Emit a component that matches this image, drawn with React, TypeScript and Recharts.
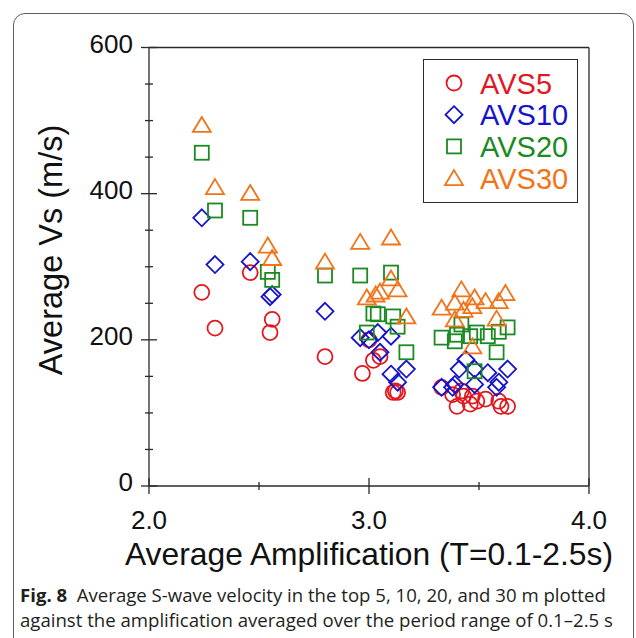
import { Legend, Scatter, ScatterChart, XAxis, YAxis } from 'recharts';

// Average amplification (x) vs average Vs (y) for each depth
const avs5: [number, number][] = [
  [2.24, 265], [2.3, 216], [2.46, 292], [2.56, 228], [2.55, 210],
  [2.8, 177], [2.97, 154], [3.0, 200], [3.02, 172], [3.05, 177], [3.11, 128], [3.12, 130], [3.13, 128],
  [3.33, 135], [3.38, 125], [3.4, 109], [3.42, 130], [3.43, 123], [3.46, 112], [3.47, 123],
  [3.49, 116], [3.53, 119], [3.59, 116], [3.6, 109], [3.63, 109],
];
const avs10: [number, number][] = [
  [2.24, 367], [2.3, 303], [2.46, 307], [2.55, 259], [2.56, 262],
  [2.8, 239], [2.96, 203], [3.0, 200], [3.04, 210], [3.1, 205], [3.05, 183], [3.1, 153], [3.17, 160], [3.13, 142],
  [3.33, 135], [3.38, 135], [3.39, 139], [3.41, 160], [3.44, 173], [3.48, 160], [3.48, 139],
  [3.54, 155], [3.58, 135], [3.59, 142], [3.63, 160],
];
const avs20: [number, number][] = [
  [2.24, 456], [2.3, 377], [2.46, 367], [2.54, 293], [2.56, 282],
  [2.8, 288], [2.96, 288], [3.1, 292], [3.02, 236], [3.04, 235], [3.11, 232], [3.13, 218], [2.99, 210], [3.17, 183],
  [3.33, 203], [3.39, 198], [3.4, 207], [3.42, 221], [3.46, 205], [3.49, 210], [3.54, 205],
  [3.59, 211], [3.58, 183], [3.63, 217], [3.48, 157],
];
const avs30: [number, number][] = [
  [2.24, 494], [2.3, 409], [2.46, 401], [2.54, 329], [2.56, 312],
  [2.8, 307], [2.96, 334], [3.1, 340], [3.1, 284], [3.05, 266], [3.13, 269], [3.03, 262], [2.99, 258], [3.17, 232],
  [3.33, 244], [3.39, 251], [3.42, 269], [3.43, 241], [3.47, 246], [3.48, 258], [3.53, 253],
  [3.59, 253], [3.62, 264], [3.39, 228], [3.58, 229], [3.47, 191],
];

const xTicks = [2, 2.5, 3, 3.5, 4];
const xLabelTicks = [2, 3, 4];
const yTicks = [0, 50, 100, 150, 200, 250, 300, 350, 400, 450, 500, 550, 600];
const yLabelTicks = [0, 200, 400, 600];

const seriesNames = ['AVS5', 'AVS10', 'AVS20', 'AVS30'];
const seriesColors = ['#e3171f', '#1414cc', '#1b8a22', '#f27318'];
const seriesKinds = ['circle', 'diamond', 'square', 'triangle'];

const toRows = (pts: [number, number][]) => pts.map(([amp, vs]) => ({ amp, vs }));

const AXIS = '#2a2a2a';
const FONT = '"Liberation Sans", Arial, sans-serif';

function Marker({ kind, cx, cy, color }: { kind: string; cx: number; cy: number; color: string }) {
  const common = { fill: 'none', stroke: color, strokeWidth: 1.8 };
  if (kind === 'circle') return <circle cx={cx} cy={cy} r={7.5} {...common} />;
  if (kind === 'diamond')
    return <polygon points={`${cx},${cy - 8.5} ${cx + 8.5},${cy} ${cx},${cy + 8.5} ${cx - 8.5},${cy}`} {...common} />;
  if (kind === 'square') return <rect x={cx - 7} y={cy - 7} width={14} height={14} {...common} />;
  return <polygon points={`${cx},${cy - 8} ${cx + 9},${cy + 7} ${cx - 9},${cy + 7}`} {...common} />;
}

const shapeFor = (i: number) => (props: any) => (
  <Marker kind={seriesKinds[i]} cx={props.cx} cy={props.cy} color={seriesColors[i]} />
);

function LeftTick({ x, y, payload }: any) {
  const major = yLabelTicks.includes(payload.value);
  const len = major ? 8 : 4;
  return (
    <g>
      <line x1={x - len} x2={x + len} y1={y} y2={y} stroke={AXIS} strokeWidth={1.3} />
      {major && (
        <text x={x - 16} y={y + 5} textAnchor="end" fontSize={26} fontFamily={FONT} fill="#111">
          {payload.value}
        </text>
      )}
    </g>
  );
}

function RightTick({ x, y, payload }: any) {
  const len = yLabelTicks.includes(payload.value) ? 8 : 4;
  return <line x1={x - len} x2={x + len} y1={y} y2={y} stroke={AXIS} strokeWidth={1.3} />;
}

function BottomTick({ x, y, payload }: any) {
  const major = xLabelTicks.includes(payload.value);
  const len = major ? 8 : 4;
  return (
    <g>
      <line x1={x} x2={x} y1={y - len} y2={y + len} stroke={AXIS} strokeWidth={1.3} />
      {major && (
        <text x={x} y={y + 43} textAnchor="middle" fontSize={26} fontFamily={FONT} fill="#111">
          {payload.value.toFixed(1)}
        </text>
      )}
    </g>
  );
}

function TopTick({ x, y, payload }: any) {
  const len = xLabelTicks.includes(payload.value) ? 8 : 4;
  return <line x1={x} x2={x} y1={y - len} y2={y + len} stroke={AXIS} strokeWidth={1.3} />;
}

function LegendBox() {
  return (
    <div style={{ width: 155, height: 144, border: `1.5px solid ${AXIS}`, boxSizing: 'border-box', background: '#fff' }}>
      <svg width={152} height={141}>
        {seriesNames.map((name, i) => {
          const cy = 23 + i * 31.7;
          return (
            <g key={name}>
              <Marker kind={seriesKinds[i]} cx={30} cy={cy} color={seriesColors[i]} />
              <text x={56} y={cy + 10.5} fontSize={29} fontFamily={FONT} fill={seriesColors[i]}>
                {name}
              </text>
            </g>
          );
        })}
      </svg>
    </div>
  );
}

export default function App() {
  const series = [avs5, avs10, avs20, avs30];
  return (
    <div style={{ position: 'absolute', left: 0, top: 0, width: 636, height: 638, background: '#fff', overflow: 'hidden' }}>
      <div
        style={{
          position: 'absolute',
          left: 13,
          top: 13,
          width: 621,
          height: 700,
          border: '1.5px solid #5c5c5c',
          borderRadius: 12,
          boxSizing: 'border-box',
        }}
      />
      <div style={{ position: 'absolute', left: 0, top: 0 }}>
        <ScatterChart width={636} height={638} margin={{ top: 46.5, right: 46, bottom: 151, left: 148 }}>
          <XAxis
            xAxisId="b"
            dataKey="amp"
            type="number"
            domain={[2, 4]}
            ticks={xTicks}
            height={1}
            tickSize={0}
            tickMargin={0}
            tickLine={false}
            tick={<BottomTick />}
            axisLine={{ stroke: AXIS, strokeWidth: 1.3 }}
            label={{
              value: 'Average Amplification (T=0.1-2.5s)',
              position: 'bottom',
              offset: 55,
              fontSize: 31.8,
              fontFamily: FONT,
              fill: '#111',
            }}
          />
          <XAxis
            xAxisId="t"
            orientation="top"
            type="number"
            domain={[2, 4]}
            ticks={xTicks}
            height={1}
            tickSize={0}
            tickMargin={0}
            tickLine={false}
            tick={<TopTick />}
            axisLine={{ stroke: AXIS, strokeWidth: 1.3 }}
          />
          <YAxis
            yAxisId="l"
            dataKey="vs"
            type="number"
            domain={[0, 600]}
            ticks={yTicks}
            width={1}
            tickSize={0}
            tickMargin={0}
            tickLine={false}
            tick={<LeftTick />}
            axisLine={{ stroke: AXIS, strokeWidth: 1.3 }}
            label={{
              content: () => (
                <text
                  x={62}
                  y={250}
                  transform="rotate(-90, 62, 250)"
                  textAnchor="middle"
                  fontSize={32.5}
                  fontFamily={FONT}
                  fill="#111"
                >
                  Average Vs (m/s)
                </text>
              ),
            }}
          />
          <YAxis
            yAxisId="r"
            orientation="right"
            type="number"
            domain={[0, 600]}
            ticks={yTicks}
            width={1}
            tickSize={0}
            tickMargin={0}
            tickLine={false}
            tick={<RightTick />}
            axisLine={{ stroke: AXIS, strokeWidth: 1.3 }}
          />
          {series.map((pts, i) => (
            <Scatter
              key={seriesNames[i]}
              name={seriesNames[i]}
              data={toRows(pts)}
              xAxisId="b"
              yAxisId="l"
              shape={shapeFor(i)}
              isAnimationActive={false}
            />
          ))}
          <Legend
            layout="vertical"
            align="center"
            verticalAlign="middle"
            content={() => <LegendBox />}
            wrapperStyle={{ position: 'absolute', left: 423, top: 59, width: 155, height: 144, bottom: 'auto', right: 'auto' }}
          />
        </ScatterChart>
      </div>
      <div
        style={{
          position: 'absolute',
          left: 20,
          top: 582,
          width: 616,
          fontFamily: '"Open Sans", sans-serif',
          fontSize: 18.6,
          lineHeight: '25px',
          color: '#231f20',
          whiteSpace: 'nowrap',
        }}
      >
        <div>
          <b>Fig. 8</b>&nbsp; Average S-wave velocity in the top 5, 10, 20, and 30 m plotted
        </div>
        <div>against the amplification averaged over the period range of 0.1–2.5 s</div>
      </div>
    </div>
  );
}
